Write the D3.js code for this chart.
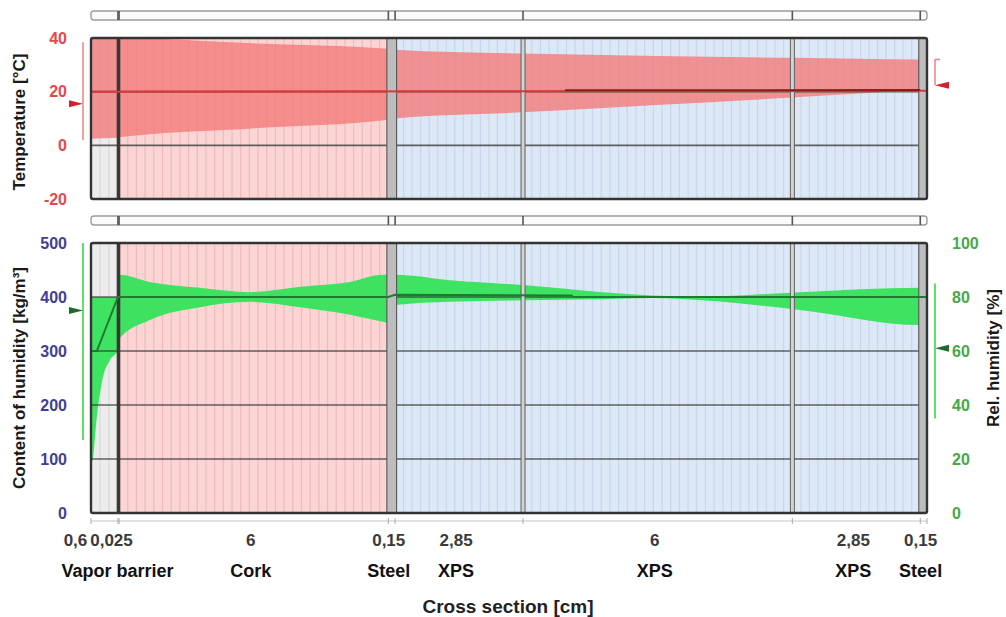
<!DOCTYPE html>
<html lang="en">
<head>
<meta charset="UTF-8">
<title>Cross section – temperature and humidity</title>
<script src="https://d3js.org/d3.v7.min.js"></script>
<style>
  body { margin: 0; background: #fff; font-family: Arial, "Liberation Sans", sans-serif; }
  svg { display: block; }
</style>
</head>
<body>
<svg id="chart" width="1006" height="617"></svg>
<script>
// wall layers (thickness in cm)
const layerNames = ["", "Vapor barrier", "Cork", "Steel", "XPS", "XPS", "XPS", "Steel"];
const layerKinds = ["plaster", "barrier", "cork", "steel", "xps", "xps", "xps", "steel"];
const layerThickness = [0.6, 0.025, 6, 0.15, 2.85, 6, 2.85, 0.15];
const thicknessLabels = ["0,6", "0,025", "6", "0,15", "2,85", "6", "2,85", "0,15"];

// temperature band (min / max over the run), position in cm
const tempPos = [0, 0.6, 0.625, 3.6, 6.625, 6.775, 9.625, 12.6, 15.625, 18.475, 18.625];
const tempMin = [2.5, 2.8, 3, 6.3, 9.5, 10, 12.3, 15, 17.8, 20.5, 20.6];
const tempMax = [40, 40, 40, 38, 36, 35.6, 34.2, 33.3, 32.6, 32, 32];
const tempMeanPos = [0, 18.625];
const tempMean = [20, 20.3];
const tempNowPos = [10.56, 18.475];
const tempNow = [20.5, 20.6];

// water content band [kg/m³]
const humPos = [0, 0.05, 0.12, 0.25, 0.42, 0.6, 0.625, 1.3, 2.43, 3.54, 4.66, 5.77, 6.5, 6.625, 6.775, 8, 9.625, 11.4, 12.5, 13.6, 15.8, 18.475, 18.625];
const humMin = [90, 105, 170, 245, 283, 302, 322, 357, 381, 391, 381, 367, 354, 352, 385, 391, 394, 396, 398, 394, 376, 348, 348];
const humMax = [400, 400, 400, 400, 400, 400, 441, 428, 417, 409, 419, 428, 441, 441, 441, 431, 422, 409, 403, 401, 409, 417, 417];
const humMeanPos = [0, 0.13, 0.6, 6.625, 6.775, 10.7, 10.75, 18.625];
const humMean = [300, 300, 400, 400, 404, 403, 400, 400];

// boundary conditions: left (inside), right (outside)
const tempArrow = [15.5, 22.4];
const tempRangeLo = [2, 22.4];
const tempRangeHi = [38.5, 32];
const rhArrow = [75, 61];
const rhRangeLo = [27, 35];
const rhRangeHi = [100, 85];

const tempTicks = [-20, 0, 20, 40];
const humTicks = [0, 100, 200, 300, 400, 500];
const rhTicks = [0, 20, 40, 60, 80, 100];

const svg = d3.select("#chart");
const bounds = [0, ...d3.cumsum(layerThickness)];
const total = bounds[bounds.length - 1];
const layers = layerThickness.map((t, i) => ({
  i, name: layerNames[i], kind: layerKinds[i], label: thicknessLabels[i], x0: bounds[i], x1: bounds[i + 1]
}));

const x = d3.scaleLinear().domain([0, total]).range([91, 927]);
const yT = d3.scaleLinear().domain([-20, 40]).range([199, 38]);
const yH = d3.scaleLinear().domain([0, 500]).range([513, 243]);
const yR = d3.scaleLinear().domain([0, 100]).range([513, 243]);

const fills = { plaster: "#ececec", cork: "#fbd4d4", xps: "#dde8f6" };
const meshColor = { plaster: "#d9d9d9", cork: "#efbabd", xps: "#c6d6ec" };

function panel(top, bottom, id) {
  const g = svg.append("g");
  g.append("clipPath").attr("id", id).append("rect")
    .attr("x", x(0)).attr("y", top).attr("width", x(total) - x(0)).attr("height", bottom - top);
  const inner = g.append("g").attr("clip-path", `url(#${id})`);

  inner.selectAll("rect.layer")
    .data(layers.filter(d => fills[d.kind]))
    .join("rect")
    .attr("class", "layer")
    .attr("x", d => x(d.x0)).attr("width", d => x(d.x1) - x(d.x0))
    .attr("y", top).attr("height", bottom - top)
    .attr("fill", d => fills[d.kind]);

  // calculation mesh
  layers.filter(d => meshColor[d.kind]).forEach(d => {
    const w = x(d.x1) - x(d.x0);
    const n = Math.max(2, Math.round(w / 8.6));
    inner.append("g").selectAll("line")
      .data(d3.range(1, n))
      .join("line")
      .attr("x1", k => x(d.x0) + k * w / n).attr("x2", k => x(d.x0) + k * w / n)
      .attr("y1", top).attr("y2", bottom)
      .attr("stroke", meshColor[d.kind]).attr("stroke-width", 1.2);
  });

  // bar above the panel
  const by = top - 27;
  g.append("rect").attr("x", x(0)).attr("y", by).attr("width", x(total) - x(0)).attr("height", 9)
    .attr("rx", 3).attr("fill", "#fbfbfb").attr("stroke", "#9c9c9c").attr("stroke-width", 1.4);
  g.selectAll("line.btick")
    .data(bounds.slice(1, -1))
    .join("line")
    .attr("class", "btick")
    .attr("x1", d => x(d)).attr("x2", d => x(d))
    .attr("y1", by).attr("y2", by + 9)
    .attr("stroke", "#555").attr("stroke-width", 1.6);

  return { g, inner, top, bottom };
}

function finishPanel(p, gridVals, yScale) {
  const { g, inner, top, bottom } = p;
  inner.append("g").selectAll("line")
    .data(gridVals)
    .join("line")
    .attr("x1", x(0)).attr("x2", x(total))
    .attr("y1", d => yScale(d)).attr("y2", d => yScale(d))
    .attr("stroke", "#333").attr("stroke-opacity", 0.75).attr("stroke-width", 1.6);

  // joints between XPS boards
  const joints = layers.filter((d, i) => i < layers.length - 1 && d.kind === "xps" && layers[i + 1].kind === "xps").map(d => d.x1);
  inner.append("g").selectAll("rect")
    .data(joints)
    .join("rect")
    .attr("x", d => x(d) - 2).attr("width", 4)
    .attr("y", top).attr("height", bottom - top)
    .attr("fill", "#d3d3d3").attr("stroke", "#555").attr("stroke-width", 0.9);

  // steel sheets
  inner.append("g").selectAll("rect")
    .data(layers.filter(d => d.kind === "steel"))
    .join("rect")
    .attr("x", d => x(d.x0) - 1.5).attr("width", d => x(d.x1) - x(d.x0) + 3)
    .attr("y", top).attr("height", bottom - top)
    .attr("fill", "#bdbdbd").attr("stroke", "#555").attr("stroke-width", 1.1);

  // vapour barrier
  inner.append("g").selectAll("rect")
    .data(layers.filter(d => d.kind === "barrier"))
    .join("rect")
    .attr("x", d => (x(d.x0) + x(d.x1)) / 2 - 1.8).attr("width", 3.6)
    .attr("y", top).attr("height", bottom - top)
    .attr("fill", "#383838");

  g.append("rect")
    .attr("x", x(0)).attr("y", top).attr("width", x(total) - x(0)).attr("height", bottom - top)
    .attr("rx", 2).attr("fill", "none").attr("stroke", "#333").attr("stroke-width", 2.4);
}

function wedge(side, y, color) {
  const tip = side === 0 ? 83 : 935;
  const base = side === 0 ? 69 : 949;
  return svg.append("path")
    .attr("d", `M${tip},${y} L${base},${y - 3.5} L${base},${y + 3.5} Z`)
    .attr("fill", color);
}

// ---------- temperature panel ----------
const pT = panel(38, 199, "clipT");
const tempBand = tempPos.map((p, i) => ({ p, lo: tempMin[i], hi: tempMax[i] }));
pT.inner.append("path")
  .datum(tempBand)
  .attr("d", d3.area().x(d => x(d.p)).y0(d => yT(d.lo)).y1(d => yT(d.hi)).curve(d3.curveMonotoneX))
  .attr("fill", "#f47a7a").attr("fill-opacity", 0.8);
finishPanel(pT, [0, 20], yT);
const lineT = d3.line().x(d => x(d[0])).y(d => yT(d[1]));
pT.inner.append("path").datum(tempMeanPos.map((p, i) => [p, tempMean[i]]))
  .attr("d", lineT).attr("fill", "none").attr("stroke", "#d83a3a").attr("stroke-width", 2);
pT.inner.append("path").datum(tempNowPos.map((p, i) => [p, tempNow[i]]))
  .attr("d", lineT).attr("fill", "none").attr("stroke", "#8a1c1c").attr("stroke-width", 2);

// ---------- humidity panel ----------
const pH = panel(243, 513, "clipH");
const humBand = humPos.map((p, i) => ({ p, lo: humMin[i], hi: humMax[i] }));
pH.inner.append("path")
  .datum(humBand)
  .attr("d", d3.area().x(d => x(d.p)).y0(d => yH(d.lo)).y1(d => yH(d.hi)).curve(d3.curveMonotoneX))
  .attr("fill", "#35e35a").attr("fill-opacity", 0.95);
finishPanel(pH, [100, 200, 300, 400], yH);
pH.inner.append("path").datum(humMeanPos.map((p, i) => [p, humMean[i]]))
  .attr("d", d3.line().x(d => x(d[0])).y(d => yH(d[1])))
  .attr("fill", "none").attr("stroke", "#1f7a30").attr("stroke-width", 2);

// ---------- boundary condition markers ----------
[0, 1].forEach(s => {
  const lx = s === 0 ? 83 : 935;
  svg.append("line").attr("x1", lx).attr("x2", lx)
    .attr("y1", yT(tempRangeHi[s])).attr("y2", yT(tempRangeLo[s]))
    .attr("stroke", "#f08a8a").attr("stroke-width", 1.6);
  svg.append("line").attr("x1", lx).attr("x2", lx)
    .attr("y1", yR(rhRangeHi[s])).attr("y2", yR(rhRangeLo[s]))
    .attr("stroke", "#5fe06b").attr("stroke-width", 2);
  wedge(s, yT(tempArrow[s]), "#d4202c");
  wedge(s, yR(rhArrow[s]), "#1d6b2a");
});
svg.append("line").attr("x1", 935).attr("x2", 940)
  .attr("y1", yT(tempRangeHi[1])).attr("y2", yT(tempRangeHi[1]))
  .attr("stroke", "#f08a8a").attr("stroke-width", 1.6);

// ---------- axes ----------
function styleAxis(g, color) {
  g.select(".domain").remove();
  g.selectAll("text").attr("fill", color).attr("font-size", 16).attr("font-weight", "bold")
    .attr("font-family", "Arial, 'Liberation Sans', sans-serif");
}
const plain = d => String(d);
svg.append("g").attr("transform", `translate(${x(0)},0)`)
  .call(d3.axisLeft(yT).tickValues(tempTicks).tickFormat(plain).tickSize(0).tickPadding(24))
  .call(g => styleAxis(g, "#e5484c"));
svg.append("g").attr("transform", `translate(${x(0)},0)`)
  .call(d3.axisLeft(yH).tickValues(humTicks).tickFormat(plain).tickSize(0).tickPadding(24))
  .call(g => styleAxis(g, "#3f3f98"));
svg.append("g").attr("transform", `translate(${x(total)},0)`)
  .call(d3.axisRight(yR).tickValues(rhTicks).tickFormat(plain).tickSize(0).tickPadding(25))
  .call(g => styleAxis(g, "#46a946"));

function vTitle(tx, ty, text) {
  svg.append("text")
    .attr("transform", `translate(${tx},${ty}) rotate(-90)`)
    .attr("text-anchor", "middle").attr("dominant-baseline", "middle")
    .attr("font-size", 17).attr("font-weight", "bold").attr("fill", "#1a1a1a")
    .text(text);
}
vTitle(21, 122, "Temperature [°C]");
vTitle(21, 378, "Content of humidity [kg/m³]");
vTitle(995, 358, "Rel. humidity [%]");

// ---------- cross-section axis ----------
svg.append("line").attr("x1", x(0)).attr("x2", x(total)).attr("y1", 521).attr("y2", 521)
  .attr("stroke", "#c6c6c6").attr("stroke-width", 1.2);
svg.selectAll("line.xtick")
  .data(bounds)
  .join("line")
  .attr("class", "xtick")
  .attr("x1", d => x(d)).attr("x2", d => x(d))
  .attr("y1", 518).attr("y2", 524)
  .attr("stroke", "#aaa");

const labelX = d => {
  const c = (x(d.x0) + x(d.x1)) / 2;
  if (d.i === 0) return c - 29;
  if (d.i === 1) return c - 7;
  return c - 3;
};
svg.selectAll("text.thick")
  .data(layers)
  .join("text")
  .attr("class", "thick")
  .attr("x", labelX).attr("y", 546)
  .attr("text-anchor", "middle")
  .attr("font-size", 17).attr("font-weight", "bold").attr("fill", "#3a3a3a")
  .text(d => d.label);
svg.selectAll("text.lname")
  .data(layers.filter(d => d.name))
  .join("text")
  .attr("class", "lname")
  .attr("x", d => d.i === 1 ? (x(d.x0) + x(d.x1)) / 2 - 1 : labelX(d)).attr("y", 577)
  .attr("text-anchor", "middle")
  .attr("font-size", 18).attr("font-weight", "bold").attr("fill", "#111")
  .text(d => d.name);
svg.append("text")
  .attr("x", 508).attr("y", 613)
  .attr("text-anchor", "middle")
  .attr("font-size", 19).attr("font-weight", "bold").attr("fill", "#222")
  .text("Cross section [cm]");
</script>
</body>
</html>
